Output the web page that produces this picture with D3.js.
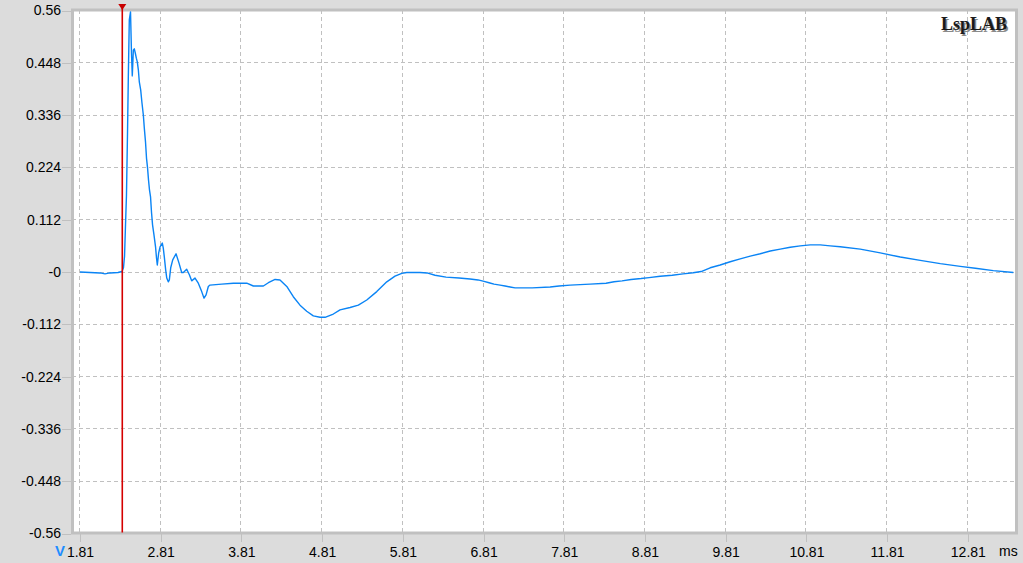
<!DOCTYPE html>
<html><head><meta charset="utf-8">
<script src="https://cdn.jsdelivr.net/npm/d3@7"></script>
<style>
html,body{margin:0;padding:0;background:#dcdcdc;}
svg{display:block;}
</style></head>
<body>
<svg id="chart" width="1023" height="563"></svg>
<script>
// ---- data ----
const timeMs = [
1.816,1.940,2.064,2.126,2.188,2.287,2.337,2.355,2.368,2.380,2.392,2.405,2.415,2.427,2.442,2.454,2.464,2.477,2.489,2.501,
2.514,2.526,2.539,2.551,2.568,2.584,2.601,2.613,2.628,2.640,2.653,2.665,2.677,2.690,2.702,2.715,2.733,2.752,2.764,2.774,
2.791,2.808,2.836,2.848,2.861,2.878,2.891,2.910,2.923,2.940,2.965,3.006,3.043,3.076,3.096,3.138,3.171,3.200,3.241,3.282,
3.324,3.353,3.378,3.406,3.427,3.572,3.716,3.882,3.964,4.088,4.150,4.233,4.294,4.378,4.459,4.542,4.625,4.707,4.790,4.852,
4.955,5.038,5.162,5.265,5.369,5.493,5.617,5.719,5.803,5.865,6.029,6.116,6.215,6.351,6.512,6.649,6.748,6.822,6.884,6.946,
7.021,7.083,7.145,7.207,7.418,7.641,7.752,7.888,8.136,8.334,8.433,8.532,8.644,8.768,8.867,9.004,9.153,9.289,9.413,9.512,
9.624,9.748,9.872,9.996,10.120,10.244,10.368,10.492,10.616,10.740,10.864,10.988,11.111,11.235,11.483,11.731,11.979,12.227,12.475,12.723,
12.909,13.132,13.380
];
const amplitude = [
0.000,-0.001,-0.002,-0.004,-0.002,-0.001,0.001,0.009,0.034,0.101,0.165,0.300,0.420,0.540,0.557,0.469,0.420,0.475,0.478,0.469,
0.458,0.450,0.433,0.407,0.390,0.362,0.336,0.308,0.278,0.244,0.223,0.197,0.176,0.161,0.128,0.101,0.079,0.054,0.030,0.015,
0.041,0.054,0.062,0.051,0.032,0.004,-0.013,-0.021,-0.017,0.009,0.026,0.039,0.019,-0.001,-0.001,0.006,-0.006,-0.019,-0.013,-0.024,
-0.042,-0.056,-0.049,-0.031,-0.028,-0.026,-0.024,-0.024,-0.030,-0.030,-0.023,-0.016,-0.017,-0.031,-0.053,-0.071,-0.084,-0.094,-0.097,-0.097,
-0.090,-0.081,-0.076,-0.071,-0.060,-0.042,-0.021,-0.009,-0.003,-0.001,-0.001,-0.002,-0.007,-0.011,-0.013,-0.015,-0.017,-0.020,-0.023,-0.026,
-0.028,-0.030,-0.032,-0.034,-0.034,-0.032,-0.030,-0.028,-0.026,-0.024,-0.021,-0.019,-0.016,-0.014,-0.012,-0.009,-0.007,-0.004,-0.0015,0.001,
0.009,0.015,0.022,0.028,0.034,0.039,0.045,0.049,0.053,0.056,0.058,0.058,0.056,0.054,0.049,0.041,0.032,0.025,0.018,0.012,
0.008,0.003,-0.001
];
const xTickValues = [1.81,2.81,3.81,4.81,5.81,6.81,7.81,8.81,9.81,10.81,11.81,12.81];
const xTickLabels = ["1.81","2.81","3.81","4.81","5.81","6.81","7.81","8.81","9.81","10.81","11.81","12.81"];
const yTickValues = [0.56,0.448,0.336,0.224,0.112,0,-0.112,-0.224,-0.336,-0.448,-0.56];
const yTickLabels = ["0.56","0.448","0.336","0.224","0.112","-0","-0.112","-0.224","-0.336","-0.448","-0.56"];
const markerTime = 2.34;
const xUnit = "ms";
const yUnit = "V";
const brand = "LspLAB";

// ---- layout ----
const svg = d3.select("#chart");
const pLeft = 72, pRight = 1016, pTop = 10, pBottom = 533;
const x = d3.scaleLinear().domain([1.717, 13.413]).range([pLeft, pRight]);
const y = d3.scaleLinear().domain([-0.56, 0.56]).range([pBottom + 0.5, pTop + 0.5]);
const gridCol = "#c0c0c0";
const font = "'Liberation Sans', Arial, sans-serif";

svg.append("rect").attr("width",1023).attr("height",563).attr("fill","#dcdcdc");
svg.append("rect").attr("x",pLeft).attr("y",pTop).attr("width",pRight-pLeft).attr("height",pBottom-pTop).attr("fill","#fff");

// grid
const grid = svg.append("g").attr("shape-rendering","crispEdges");
grid.selectAll("line.v").data(xTickValues).join("line")
  .attr("x1",d=>Math.floor(x(d))+0.5).attr("x2",d=>Math.floor(x(d))+0.5)
  .attr("y1",pTop).attr("y2",pBottom)
  .attr("stroke",gridCol).attr("stroke-width",1).attr("stroke-dasharray","4,3");
grid.selectAll("line.h").data(yTickValues.filter(v=>Math.abs(v)<0.55)).join("line")
  .attr("y1",d=>Math.floor(y(d))+0.5).attr("y2",d=>Math.floor(y(d))+0.5)
  .attr("x1",pLeft).attr("x2",pRight)
  .attr("stroke",gridCol).attr("stroke-width",1).attr("stroke-dasharray","4,3");

// axes via d3
const yAxis = d3.axisLeft(y).tickValues(yTickValues).tickFormat((d,i)=>yTickLabels[i]).tickSize(9).tickPadding(1);
const gy = svg.append("g").attr("transform",`translate(${pLeft-1},0)`).call(yAxis);
gy.select(".domain").remove();
gy.selectAll(".tick line").attr("stroke",gridCol).attr("shape-rendering","crispEdges");
gy.selectAll(".tick text").attr("fill","#000").style("font-family",font).style("font-size","14px");

const xAxis = d3.axisBottom(x).tickValues(xTickValues).tickFormat((d,i)=>xTickLabels[i]).tickSize(8).tickPadding(5);
const gx = svg.append("g").attr("transform",`translate(0.5,${pBottom+1})`).call(xAxis);
gx.select(".domain").remove();
gx.selectAll(".tick line").attr("stroke",gridCol).attr("shape-rendering","crispEdges");
gx.selectAll(".tick text").attr("fill","#000").style("font-family",font).style("font-size","14px");

// frame
svg.append("rect").attr("x",pLeft+0.5).attr("y",pTop).attr("width",pRight-pLeft).attr("height",pBottom-pTop)
  .attr("fill","none").attr("stroke","#c0c0c0").attr("stroke-width",3);

// curve
const pts = timeMs.map((t,i)=>[t, amplitude[i]]);
const line = d3.line().x(d=>x(d[0])).y(d=>y(d[1])).curve(d3.curveLinear);
svg.append("path").datum(pts).attr("d",line).attr("fill","none")
  .attr("stroke","#0a84f5").attr("stroke-width",1.4).attr("stroke-linejoin","round");

// marker
const mx = x(markerTime);
svg.append("line").attr("x1",mx).attr("x2",mx).attr("y1",4).attr("y2",pBottom-0.5)
  .attr("stroke","#d40000").attr("stroke-width",1.6);
svg.append("path").attr("d",`M${mx-4},4 L${mx+4},4 L${mx},10 Z`).attr("fill","#c80000");

// units
svg.append("text").attr("x",55).attr("y",556).text(yUnit)
  .attr("fill","#1e8cff").style("font-family",font).style("font-size","15px").style("font-weight","bold");
svg.append("text").attr("x",999).attr("y",556).text(xUnit)
  .attr("fill","#000").style("font-family",font).style("font-size","14px");

// brand
const bf = "'Liberation Serif', 'Times New Roman', serif";
svg.append("text").attr("x",1008.5).attr("y",31.5).attr("text-anchor","end").text(brand)
  .attr("fill","#8a8a8a").style("font-family",bf).style("font-size","18px").style("font-weight","bold");
svg.append("text").attr("x",1007).attr("y",30).attr("text-anchor","end").text(brand)
  .attr("fill","#1a1a1a").style("font-family",bf).style("font-size","18px").style("font-weight","bold");
</script>
</body></html>
